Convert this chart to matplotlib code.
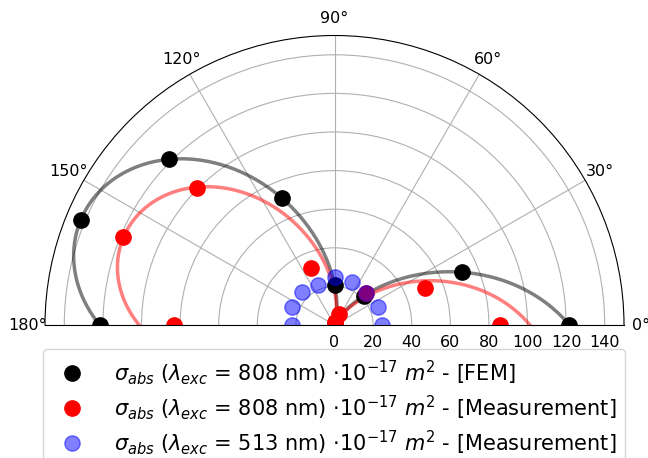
import numpy as np
import matplotlib
matplotlib.use("Agg")
import matplotlib.pyplot as plt

# angles (degrees)
angles_deg = [0, 22.5, 45, 67.5, 90, 112.5, 135, 157.5, 180]

# absorption cross sections (1e-17 m^2)
fem_808 = [121.5, 71.3, 21.5, 0.5, 20.7, 71.2, 121.5, 142.4, 121.5]
meas_808 = [85.8, 50.5, 23.4, 6.4, 1.5, 31.7, 100.6, 118.5, 83.2]
meas_513 = [24.5, 24.3, 23.4, 24.0, 24.7, 22.6, 23.9, 23.8, 22.2]

radial_ticks = [0, 20, 40, 60, 80, 100, 120, 140]
theta_ticks = [0, 30, 60, 90, 120, 150, 180]

labels = [
    r'$\sigma_{abs}$ ($\lambda_{exc}$ = 808 nm) $\cdot 10^{-17}$ $m^2$ - [FEM]',
    r'$\sigma_{abs}$ ($\lambda_{exc}$ = 808 nm) $\cdot 10^{-17}$ $m^2$ - [Measurement]',
    r'$\sigma_{abs}$ ($\lambda_{exc}$ = 513 nm) $\cdot 10^{-17}$ $m^2$ - [Measurement]',
]

th = np.deg2rad(angles_deg)
fem = np.array(fem_808)
m808 = np.array(meas_808)
m513 = np.array(meas_513)

# least-squares dipole fit (pi-periodic) of the FEM data over one period
per = th < np.pi
A = np.column_stack([np.ones(per.sum()), np.cos(2 * th[per]), np.sin(2 * th[per])])
coef, *_ = np.linalg.lstsq(A, fem[per], rcond=None)
tt = np.linspace(0, np.pi, 400)
fem_fit = coef[0] + coef[1] * np.cos(2 * tt) + coef[2] * np.sin(2 * tt)
meas_fit = fem_fit * (m808.max() / fem.max())

W, H = 648, 458
fig = plt.figure(figsize=(W / 100, H / 100), dpi=100)
side = 579
cx_top = 180.25
ax = fig.add_axes([45 / W, (H - (cx_top + side / 2)) / H, side / W, side / H], projection='polar')
ax.set_thetamin(0)
ax.set_thetamax(180)

ms = 11
ax.plot(th, fem, 'o', color='black', ms=ms, zorder=3, label=labels[0])
ax.plot(tt, fem_fit, '-', color='black', alpha=0.5, lw=2.5, zorder=2)
ax.plot(th, m808, 'o', color='red', ms=ms, zorder=4, label=labels[1])
ax.plot(tt, meas_fit, '-', color='red', alpha=0.5, lw=2.5, zorder=2)
ax.plot(th, m513, 'o', color='blue', alpha=0.5, ms=ms, zorder=5, label=labels[2])

ax.set_rlim(0, 150)
ax.set_rticks(radial_ticks)
ax.set_thetagrids(theta_ticks)
ax.tick_params(axis='y', labelsize=11.5)
ax.tick_params(axis='x', labelsize=11.5, pad=2)

fig.legend(loc='upper center', bbox_to_anchor=(334 / W, 1 - 339 / H), fontsize=15,
           labelspacing=0.3, handletextpad=1.0, frameon=True)

fig.savefig('out.png', dpi=100)
